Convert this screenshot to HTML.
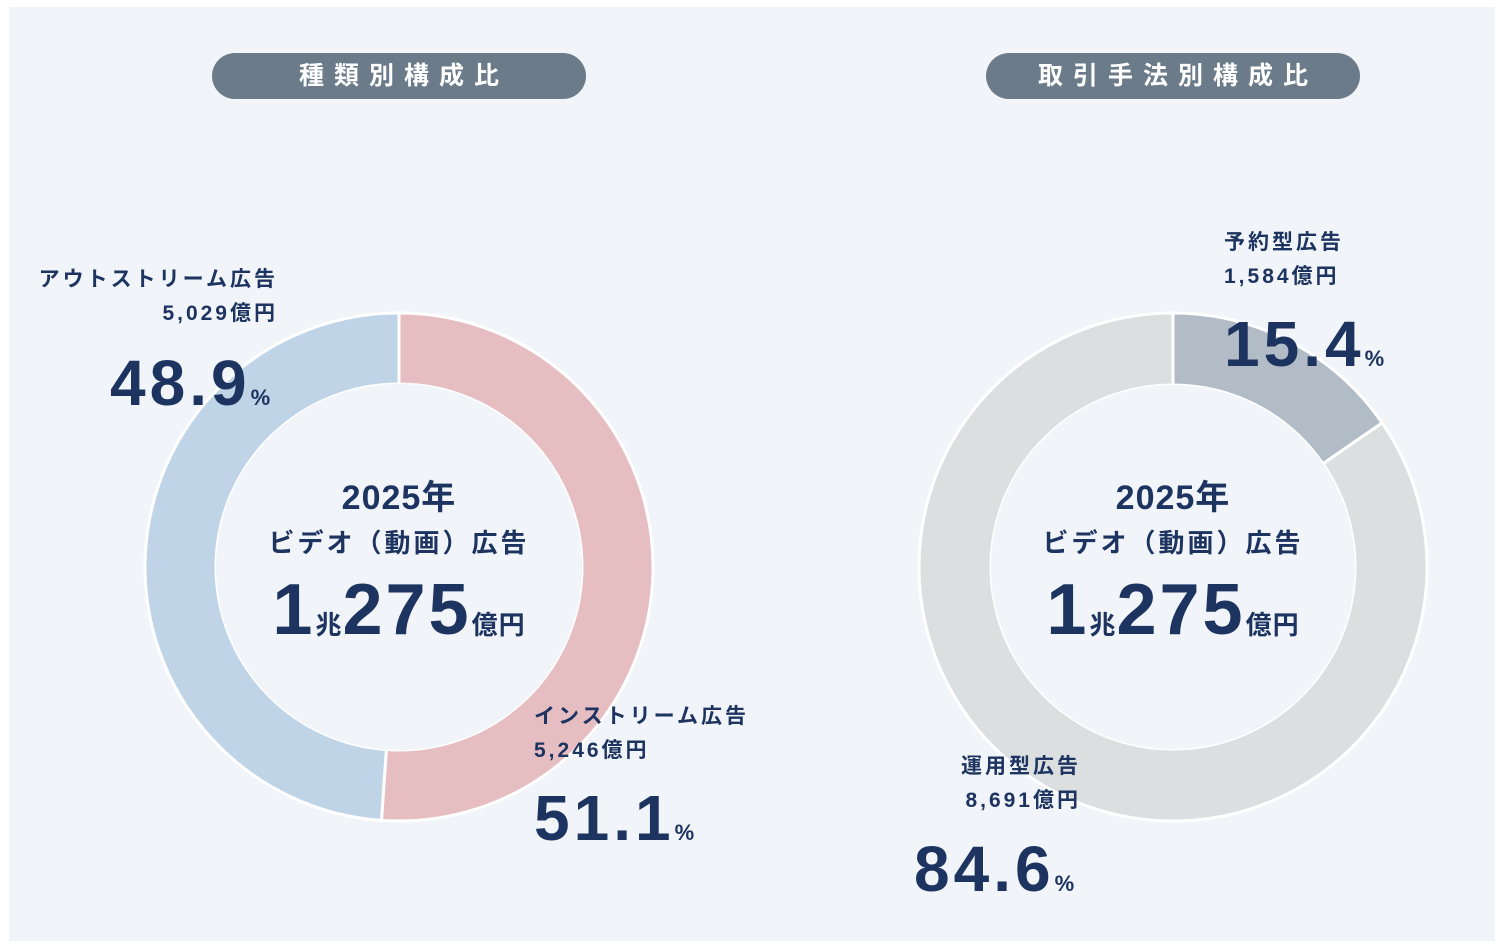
<!DOCTYPE html>
<html><head><meta charset="utf-8">
<style>
html,body{margin:0;padding:0;background:#fff;}
body{width:1506px;height:948px;position:relative;overflow:hidden;font-family:"Liberation Sans","Noto Sans CJK JP",sans-serif;color:#1d3461;}
#panel{position:absolute;left:9px;top:7px;width:1486px;height:934px;background:#f1f4f8;}
.pill{position:absolute;top:53px;height:46px;border-radius:23px;background:#6b7b8a;color:#fff;font-weight:bold;font-size:25px;letter-spacing:10px;text-indent:10px;text-align:center;line-height:46px;}
.lbl{position:absolute;font-weight:bold;font-size:21px;line-height:34px;letter-spacing:3px;}
.pct{position:absolute;font-weight:bold;font-size:64px;line-height:62px;letter-spacing:4px;}
.pct small{font-size:22px;letter-spacing:0;}
.center{position:absolute;width:320px;text-align:center;font-weight:bold;}
.center .y{font-size:34px;line-height:40px;letter-spacing:1px;}
.center .t{font-size:26px;line-height:50px;letter-spacing:3px;}
.center .v{font-size:72px;line-height:84px;letter-spacing:3px;}
.center .v span{font-size:26px;letter-spacing:1px;}
svg{position:absolute;left:0;top:0;}
</style></head><body>
<div id="panel"></div>
<svg id="chart" width="1506" height="948"></svg>
<div class="pill" style="left:212px;width:374px">種類別構成比</div>
<div class="pill" style="left:986px;width:374px">取引手法別構成比</div>

<div class="lbl" style="right:1228px;top:263px;text-align:right">アウトストリーム広告<br>5,029億円</div>
<div class="pct" style="left:110px;top:352px">48.9<small>%</small></div>
<div class="lbl" style="left:534px;top:700px">インストリーム広告<br>5,246億円</div>
<div class="pct" style="left:534px;top:787px">51.1<small>%</small></div>

<div class="lbl" style="left:1224px;top:226px">予約型広告<br>1,584億円</div>
<div class="pct" style="left:1224px;top:313px">15.4<small>%</small></div>
<div class="lbl" style="right:425px;top:750px;text-align:right">運用型広告<br>8,691億円</div>
<div class="pct" style="left:914px;top:838px">84.6<small>%</small></div>

<div class="center" style="left:239px;top:478px"><div class="y">2025年</div><div class="t">ビデオ（動画）広告</div><div class="v">1<span>兆</span>275<span>億円</span></div></div>
<div class="center" style="left:1013px;top:478px"><div class="y">2025年</div><div class="t">ビデオ（動画）広告</div><div class="v">1<span>兆</span>275<span>億円</span></div></div>

<script>
const typeCategories=["インストリーム広告","アウトストリーム広告"];
const typeValues=[51.1,48.9];
const typeColors=["#e6bdc0","#c0d4e7"];
const methodCategories=["予約型広告","運用型広告"];
const methodValues=[15.4,84.6];
const methodColors=["#b2bcc7","#dcdfe0"];
const svg=document.getElementById('chart');
const NS="http://www.w3.org/2000/svg";
function pt(cx,cy,r,f){const a=f*2*Math.PI-Math.PI/2;return [cx+r*Math.cos(a),cy+r*Math.sin(a)];}
function donut(cx,cy,ro,ri,vals,cols,cats,prefix){
  const tot=vals.reduce((a,b)=>a+b,0);let acc=0;
  vals.forEach((v,i)=>{
    const f0=acc/tot,f1=(acc+v)/tot;acc+=v;
    const large=(f1-f0)>0.5?1:0;
    const [x0,y0]=pt(cx,cy,ro,f0),[x1,y1]=pt(cx,cy,ro,f1),[x2,y2]=pt(cx,cy,ri,f1),[x3,y3]=pt(cx,cy,ri,f0);
    const p=document.createElementNS(NS,'path');
    p.setAttribute('d',`M${x0},${y0}A${ro},${ro} 0 ${large} 1 ${x1},${y1}L${x2},${y2}A${ri},${ri} 0 ${large} 0 ${x3},${y3}Z`);
    p.setAttribute('fill',cols[i]);p.setAttribute('stroke','#ffffff');p.setAttribute('stroke-width','3');
    
    
    svg.appendChild(p);
  });
  const c=document.createElementNS(NS,'circle');
  c.setAttribute('cx',cx);c.setAttribute('cy',cy);c.setAttribute('r',ri);c.setAttribute('fill','#f1f4f8');
  
  
  svg.appendChild(c);
}
donut(399,567,254,183,typeValues,typeColors,typeCategories,'type');
donut(1173,567,254,182,methodValues,methodColors,methodCategories,'method');
</script>
</body></html>
